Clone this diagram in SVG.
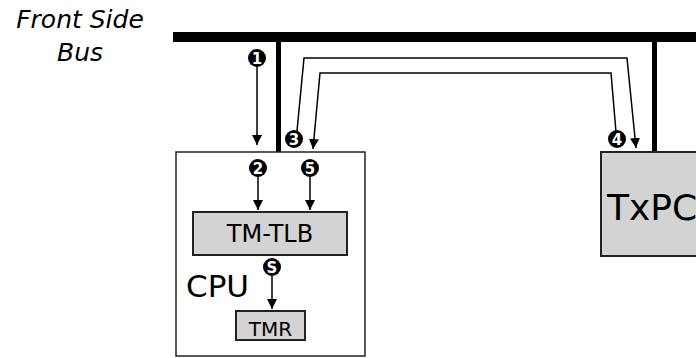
<svg xmlns="http://www.w3.org/2000/svg" width="696" height="358" viewBox="0 0 696 358">
<style>
text{font-family:"DejaVu Sans","Liberation Sans",sans-serif;fill:#000}
.box{fill:#d3d3d3;stroke:#222;stroke-width:2}
.cpu{fill:#fff;stroke:#222;stroke-width:1.5}
.bus{stroke:#000;fill:none}
.arr{stroke:#000;stroke-width:1.5;fill:none;marker-end:url(#ah)}
.num{fill:#000}
.nt{fill:#fff;font-weight:bold;font-size:15px;text-anchor:middle}
</style>
<defs>
<marker id="ah" viewBox="0 0 10 10" refX="10" refY="5" markerWidth="10" markerHeight="10" markerUnits="userSpaceOnUse" orient="auto">
<path d="M0,0 L10,5 L0,10 z" fill="#000"/>
</marker>
</defs>
<text x="80" y="28" font-size="25" font-style="italic" text-anchor="middle">Front Side</text>
<text x="80" y="61" font-size="25" font-style="italic" text-anchor="middle">Bus</text>
<g id="bus">
<line class="bus" x1="173" y1="37" x2="696" y2="37" stroke-width="10"/>
<line class="bus" x1="278.5" y1="37" x2="278.5" y2="152" stroke-width="5"/>
<line class="bus" x1="654.5" y1="37" x2="654.5" y2="152" stroke-width="5"/>
</g>
<g id="cpu">
<rect class="cpu" x="176" y="152" width="189" height="204"/>
<text x="186" y="297" font-size="31">CPU</text>
</g>
<g id="tmtlb">
<rect class="box" x="193" y="212" width="154" height="43"/>
<text x="270" y="242" font-size="24" text-anchor="middle">TM-TLB</text>
</g>
<g id="tmr">
<rect class="box" x="236" y="311" width="69" height="29"/>
<text x="270.5" y="336" font-size="20" text-anchor="middle">TMR</text>
</g>
<g id="txpc">
<rect class="box" x="601" y="152" width="100" height="104"/>
<text x="607" y="220" font-size="36">TxPC</text>
</g>
<g id="connectors">
<line class="arr" x1="257" y1="66" x2="257" y2="145"/>
<line class="arr" x1="258" y1="176" x2="258" y2="210"/>
<line class="arr" x1="310" y1="176" x2="310" y2="210"/>
<line class="arr" x1="272" y1="276" x2="272" y2="309"/>
<polyline class="arr" points="297,131 304,58 627,58 636,148"/>
<polyline class="arr" points="616,132 611,73 320,73 313,149"/>
</g>
<g id="labels">
<circle class="num" cx="257" cy="58" r="9"/><text class="nt" x="257" y="63.5">1</text>
<circle class="num" cx="258" cy="168" r="9"/><text class="nt" x="258" y="173.5">2</text>
<circle class="num" cx="294" cy="139" r="9"/><text class="nt" x="294" y="144.5">3</text>
<circle class="num" cx="617" cy="139" r="9"/><text class="nt" x="617" y="144.5">4</text>
<circle class="num" cx="310" cy="168" r="9"/><text class="nt" x="310" y="173.5">5</text>
<circle class="num" cx="272" cy="267" r="9"/><text class="nt" x="272" y="272.5">S</text>
</g>
</svg>
